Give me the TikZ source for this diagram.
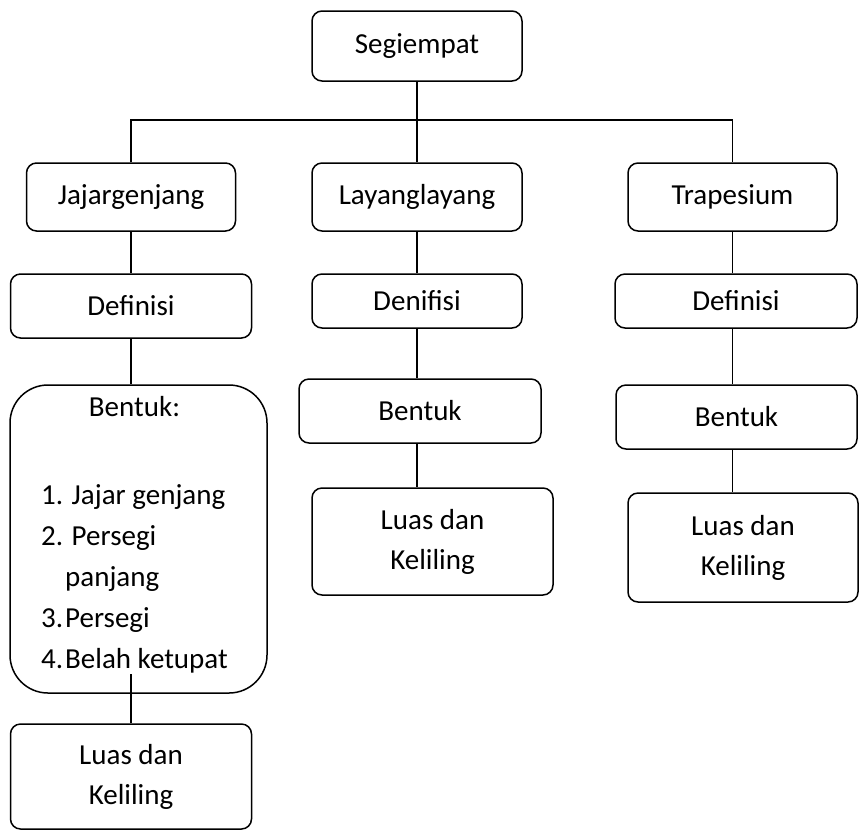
\documentclass[tikz,border=0pt]{standalone}
\usepackage{fontspec}
\setmainfont{Carlito}
\usepackage{tikz}

\begin{document}
\begin{tikzpicture}[x=1pt,y=-1pt,line width=1.5pt,
  box/.style={draw,rounded corners=10pt,align=center,inner sep=0pt,font=\fontsize{29}{40}\selectfont},
  bigbox/.style={draw,rounded corners=38pt,inner sep=0pt,font=\fontsize{29}{41}\selectfont}]
  \useasboundingbox (0,0) rectangle (859,831);
  % puncak
  \node (seg) at (417,46) [box,minimum width=210pt,minimum height=70pt] {Segiempat};
  \coordinate (bar) at (417,120);
  % cabang
  \node (jaj) at (131,197) [box,minimum width=209pt,minimum height=68pt] {Jajargenjang};
  \node (lay) at (417,197) [box,minimum width=210pt,minimum height=68pt] {Layanglayang};
  \node (tra) at (732.5,197) [box,minimum width=209pt,minimum height=68pt] {Trapesium};
  % jajargenjang
  \node (jajdef) at (131,306) [box,minimum width=241pt,minimum height=64pt] {Definisi};
  \node (jajben) at (138.5,539) [bigbox,minimum width=257pt,minimum height=308pt] {%
    \begin{tabular}{@{}l@{\hspace{8pt}}}
      \multicolumn{1}{@{}c@{\hspace{8pt}}}{Bentuk:}\\[47pt]
      \makebox[24pt][l]{1.} Jajar genjang\\
      \makebox[24pt][l]{2.} Persegi\\
      \hspace*{24pt}panjang\\
      \makebox[24pt][l]{3.}Persegi\\
      \makebox[24pt][l]{4.}Belah ketupat\\[10pt]
    \end{tabular}};
  \node (jajluas) at (131,776.5) [box,minimum width=241pt,minimum height=105pt] {Luas dan\\Keliling};
  % layanglayang
  \node (laydef) at (417,301) [box,minimum width=210pt,minimum height=54pt] {Denifisi};
  \node (layben) at (420,411) [box,minimum width=242pt,minimum height=64pt] {Bentuk};
  \node (layluas) at (432.5,541.5) [box,minimum width=241pt,minimum height=107pt] {Luas dan\\Keliling};
  % trapesium
  \node (tradef) at (736,301) [box,minimum width=242pt,minimum height=54pt] {Definisi};
  \node (traben) at (736.5,417) [box,minimum width=241pt,minimum height=64pt] {Bentuk};
  \node (traluas) at (743,547.5) [box,minimum width=230pt,minimum height=109pt] {Luas dan\\Keliling};
  % garis
  \draw (seg.south) -- (lay.north);
  \draw (jaj.north) |- (bar) -| (tra.north);
  \draw (jaj.south) -- (jajdef.north);
  \draw (jajdef.south) -- (jajben.north -| jajdef.south);
  \draw (jajluas.north) -- ++(0,-49);
  \draw (lay.south) -- (laydef.north);
  \draw (laydef.south) -- (layben.north -| laydef.south);
  \draw (layben.south -| laydef.south) -- (layluas.north -| laydef.south);
  \draw (tra.south) -- (tradef.north -| tra.south);
  \draw (tradef.south -| tra.south) -- (traben.north -| tra.south);
  \draw (traben.south -| tra.south) -- (traluas.north -| tra.south);
\end{tikzpicture}
\end{document}
